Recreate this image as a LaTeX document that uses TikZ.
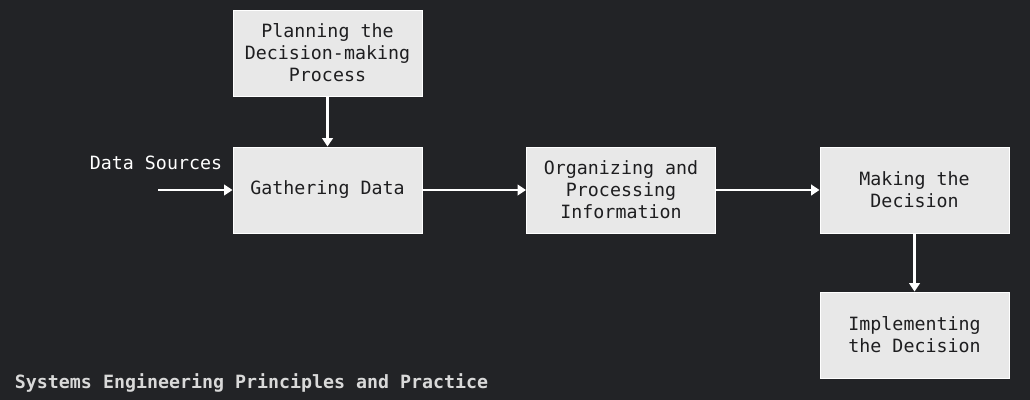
\documentclass[tikz,border=0pt]{standalone}
\usepackage{fontspec}
\setmonofont{DejaVu Sans Mono}
\usetikzlibrary{arrows.meta}
\definecolor{bgdark}{RGB}{34,35,38}
\definecolor{boxfill}{RGB}{232,232,232}
\definecolor{boxtext}{RGB}{30,30,32}
\tikzstyle{box}=[rectangle,fill=boxfill,minimum width=4.725cm,minimum height=2.15cm,inner sep=0pt,draw=white,line width=0.6pt,anchor=center,align=center,text=boxtext,font=\ttfamily\fontsize{13}{15.6}\selectfont]
\tikzstyle{annot}=[align=center,text=white,font=\ttfamily\fontsize{13}{15.6}\selectfont]
\tikzstyle{flow}=[draw=white,line width=2.1pt,-{Triangle[length=6pt,width=7.5pt]}]

\begin{document}
\begin{tikzpicture}[x=0.025cm,y=-0.025cm]
	\fill[bgdark] (0,0) rectangle (1030,400);

	\node[box](plan) at (327.5,53){Planning the\\Decision-making\\Process};
	\node[box](gather) at (327.5,190){Gathering Data};
	\node[box](organize) at (621,190){Organizing and\\Processing\\Information};
	\node[box](decide) at (914.5,190){Making the\\Decision};
	\node[box](implement) at (914.5,335){Implementing\\the Decision};

	\node[annot](sources) at (156,163){Data Sources};
	\coordinate (in) at (158,190);

	\draw[flow] (plan) -- (gather);
	\draw[flow] (in) -- (gather);
	\draw[flow] (gather) -- (organize);
	\draw[flow] (organize) -- (decide);
	\draw[flow] (decide) -- (implement);

	\node[annot, anchor=west, text=white!85!black, font=\ttfamily\bfseries\fontsize{13}{15.6}\selectfont](footer) at (10,383){Systems Engineering Principles and Practice};
\end{tikzpicture}
\end{document}
